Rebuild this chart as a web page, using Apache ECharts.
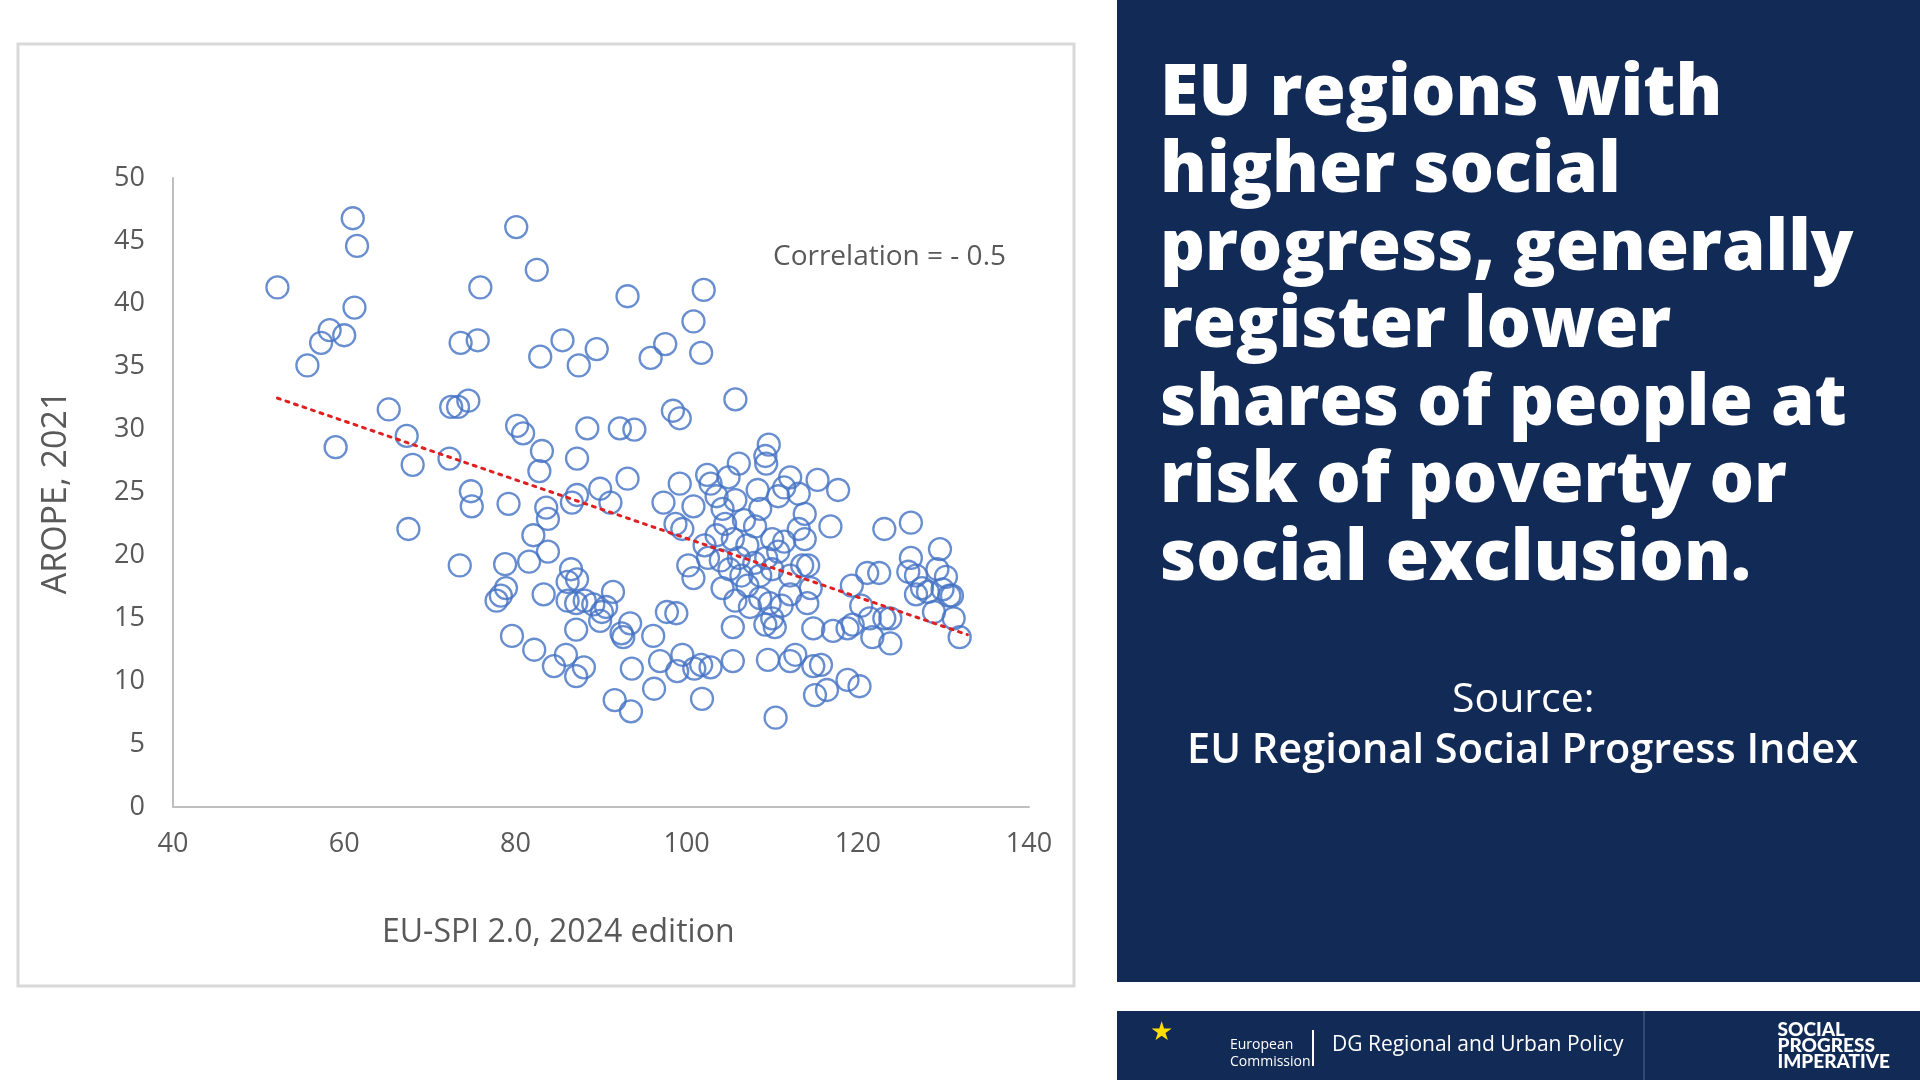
<!DOCTYPE html>
<html><head><meta charset="utf-8">
<script src="https://cdn.jsdelivr.net/npm/echarts@6/dist/echarts.min.js"></script>
<style>html,body{margin:0;padding:0;background:#fff}#c{width:1920px;height:1080px}</style>
</head><body><div id="c"></div>
<script>
const xTicks=[40,60,80,100,120,140];
const yTicks=[0,5,10,15,20,25,30,35,40,45,50];
const spi=[52.2,61.0,61.5,61.2,55.7,57.3,58.3,60.0,59.0,65.2,67.3,68.0,67.5,72.3,72.5,73.3,74.5,73.5,74.8,74.9,73.6,75.6,75.9,80.1,82.5,82.9,85.5,87.4,89.5,80.2,80.9,83.1,82.8,87.2,88.4,79.2,83.6,83.8,82.1,83.8,81.6,78.8,78.9,78.3,77.8,83.3,79.6,82.2,84.5,85.9,87.1,88.0,86.1,86.5,87.2,86.1,87.1,88.1,89.1,90.1,90.6,91.4,89.9,87.1,92.6,92.4,93.4,93.6,91.6,93.5,96.1,96.2,96.9,98.9,99.5,100.9,101.7,102.8,101.8,97.7,98.8,87.2,86.6,89.9,91.1,93.1,92.2,93.9,93.1,97.5,95.8,100.8,101.7,102.0,98.4,99.2,105.7,97.3,98.7,99.5,99.2,100.8,102.4,100.2,100.8,102.8,103.5,104.2,104.9,106.1,105.7,104.5,105.4,103.5,102.1,102.5,104.0,105.0,106.1,107.1,108.0,106.7,108.6,109.3,109.6,109.2,108.3,110.7,111.4,112.1,113.1,115.3,117.7,116.8,113.8,113.1,113.8,111.4,110.0,110.7,109.3,107.9,108.6,110.0,112.1,113.5,114.2,107.1,105.7,105.4,107.4,108.6,109.7,110.0,110.3,109.2,111.1,112.1,114.1,114.5,114.8,112.1,112.7,109.5,105.4,110.4,114.8,115.7,115.0,116.4,117.1,118.8,119.4,118.8,120.2,119.3,121.1,122.5,120.4,121.4,121.7,123.1,123.8,123.8,123.1,126.2,126.2,125.9,126.8,127.5,126.8,128.2,128.9,129.3,129.6,130.3,129.9,130.7,131.2,131.9,131.0,106.4,104.2];
const arope=[41.3,46.8,44.6,39.7,35.1,36.9,37.9,37.5,28.6,31.6,29.5,27.2,22.1,27.7,31.8,31.8,32.3,19.2,25.1,23.9,36.9,37.1,41.3,46.1,42.7,35.8,37.1,35.1,36.4,30.3,29.7,28.3,26.7,27.7,30.1,24.1,23.8,22.9,21.6,20.3,19.5,19.3,17.4,16.8,16.4,16.9,13.6,12.5,11.2,12.1,10.4,11.1,17.9,18.9,18.1,16.4,16.2,16.4,16.1,15.5,15.9,17.1,14.8,14.1,13.5,13.8,14.6,11.0,8.5,7.6,13.6,9.4,11.6,10.8,12.1,11.0,11.3,11.1,8.6,15.5,15.4,24.8,24.2,25.3,24.2,26.1,30.1,30.0,40.6,36.8,35.7,38.6,36.1,41.1,31.5,30.9,32.4,24.2,22.5,22.1,25.7,23.9,26.4,19.2,18.2,25.7,24.7,23.7,26.2,27.3,24.4,22.5,21.3,21.6,20.8,19.8,19.6,18.9,19.8,20.8,22.3,22.8,23.7,27.3,28.8,27.9,25.2,24.7,25.4,26.2,24.9,26.0,25.2,22.3,23.3,22.1,21.3,21.1,21.3,20.3,19.8,19.4,18.4,18.9,18.4,19.2,19.2,17.6,16.4,14.3,15.9,16.6,16.2,15.0,14.3,14.5,16.0,16.9,16.2,17.4,14.2,11.6,12.1,11.7,11.6,7.1,11.2,11.3,8.9,9.3,14.0,14.2,14.5,10.1,9.6,17.6,18.6,18.6,16.0,15.0,13.5,15.0,15.0,13.0,22.1,22.6,19.8,18.7,18.4,17.4,16.9,17.1,15.5,18.9,20.5,18.3,17.3,16.8,15.0,13.5,16.8,18.4,17.4];
const trendX=[52.2,132.8];
const trendY=[32.5,13.7];
const titleLines=['EU regions with','higher social','progress, generally','register lower','shares of people at','risk of poverty or','social exclusion.'];
const chart=echarts.init(document.getElementById('c'));
const navy='#122a56';
const g=[
 {type:'rect',shape:{x:18,y:44,width:1056,height:942},style:{fill:'none',stroke:'#d9d9d9',lineWidth:3},z:-1},
 {type:'rect',shape:{x:1117,y:0,width:803,height:982},style:{fill:navy}},
 {type:'rect',shape:{x:1117,y:1011,width:803,height:69},style:{fill:navy}},
 {type:'text',left:1150,top:1020,style:{text:'★',fill:'#ffdd00',font:'26px DejaVu Sans'}},
 {type:'text',left:1230,top:1037,style:{text:'European\nCommission',fill:'#fff',font:'14px "Open Sans"',lineHeight:17}},
 {type:'rect',shape:{x:1312,y:1030,width:2,height:36},style:{fill:'#fff'}},
 {type:'text',left:1332,top:1035,style:{text:'DG Regional and Urban Policy',fill:'#fff',font:'21px "Open Sans"'}},
 {type:'rect',shape:{x:1643,y:1011,width:2,height:69},style:{fill:'#34496f'}},
 {type:'text',right:30,top:1020,style:{text:'SOCIAL\nPROGRESS\nIMPERATIVE',fill:'#fff',font:'900 19px Lato',align:'right',lineHeight:16}},
 {type:'text',left:1452,top:680,style:{text:'Source:',fill:'#fff',font:'41px "Open Sans"'}},
 {type:'text',left:1187,top:730,style:{text:'EU Regional Social Progress Index',fill:'#fff',font:'600 41.5px "Open Sans"'}},
 {type:'text',left:773,top:243,style:{text:'Correlation = - 0.5',fill:'#595959',font:'28px "Open Sans"'}},
 {type:'text',left:382,top:917,style:{text:'EU-SPI 2.0, 2024 edition',fill:'#595959',font:'32px "Open Sans"'}}
];
titleLines.forEach((t,i)=>g.push({type:'text',left:1160,top:60+i*77.5,style:{text:t,fill:'#fff',font:'800 70px "Open Sans"'}}));
chart.setOption({
 animation:false,
 grid:{left:173,right:891,top:178,bottom:273},
 graphic:g,
 xAxis:{type:'value',min:40,max:140,interval:20,
  axisLine:{lineStyle:{color:'#bfbfbf',width:2}},axisTick:{show:false},splitLine:{show:false},
  axisLabel:{color:'#595959',fontSize:27,margin:24,fontFamily:'"Open Sans"'}},
 yAxis:{type:'value',min:0,max:50,interval:5,name:'AROPE, 2021',nameLocation:'middle',nameGap:100,
  nameTextStyle:{color:'#595959',fontSize:34,fontFamily:'"Open Sans"'},
  axisLine:{show:true,lineStyle:{color:'#bfbfbf',width:2}},axisTick:{show:false},splitLine:{show:false},
  axisLabel:{color:'#595959',fontSize:27,margin:28,fontFamily:'"Open Sans"'}},
 series:[
  {type:'scatter',data:spi.map((x,i)=>[x,arope[i]]),symbolSize:22,
   itemStyle:{color:'rgba(0,0,0,0)',borderColor:'#4472c4',borderWidth:2.3}},
  {type:'line',data:trendX.map((x,i)=>[x,trendY[i]]),symbol:'none',
   lineStyle:{color:'#e02020',width:3,type:[3,6],cap:'round'}}
 ]
});
</script></body></html>
